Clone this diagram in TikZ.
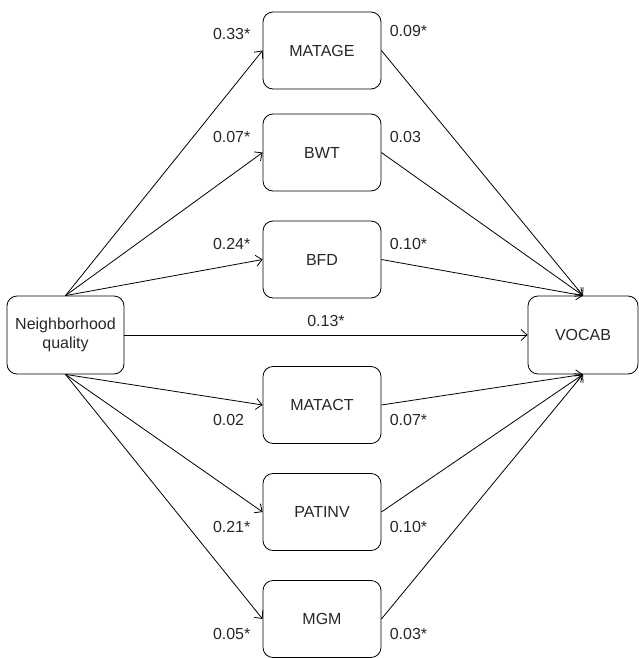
\documentclass[tikz,border=0pt]{standalone}
\usepackage{fontspec}
\setmainfont{Liberation Sans}
\usetikzlibrary{arrows.meta,positioning}

\tikzset{
  box/.style={draw, rounded corners=10pt, minimum width=118pt, minimum height=77pt,
    inner sep=0pt, align=center, text=black!85},
  lbl/.style={anchor=west, inner sep=0pt, text=black!85},
}

\begin{document}
\begin{tikzpicture}[x=1pt, y=-1pt, node distance=107pt, on grid,
    line width=0.8pt, >={Straight Barb[length=6pt,width=11pt]},
    font=\fontsize{16}{19.5}\selectfont]
  \useasboundingbox (0,0) rectangle (639,658);

  % outer nodes
  \node[box, minimum width=117pt, minimum height=78pt] (nq) at (65.5,335) {Neighborhood\\quality};
  \node[box, minimum width=110pt, minimum height=78pt] (vocab) at (583,335) {VOCAB};

  % mediators
  \node[box] (matage) at (322,50.5) {MATAGE};
  \node[box] (bwt) [below=102pt of matage] {BWT};
  \node[box] (bfd) [below=of bwt] {BFD};
  \node[box] (matact) at (322,405) {MATACT};
  \node[box] (patinv) [below=of matact] {PATINV};
  \node[box] (mgm) [below=of patinv] {MGM};

  \path[->]
    (nq.north) edge (matage.west)
    (nq.north) edge (bwt.west)
    (nq.north) edge (bfd.west)
    (nq.south) edge (matact.west)
    (nq.south) edge (patinv.west)
    (nq.south) edge (mgm.west)
    (matage.east) edge (vocab.north)
    (bwt.east) edge (vocab.north)
    (bfd.east) edge (vocab.north)
    (matact.east) edge (vocab.south)
    (patinv.east) edge (vocab.south)
    (mgm.east) edge (vocab.south)
    (nq.east) edge node[above=8pt, inner sep=0pt, text=black!85] {0.13*} (vocab.west);

  % path coefficients
  \node[lbl] (a1) at ([shift={(-50,-17)}]matage.west) {0.33*};
  \node[lbl] (a2) at ([shift={(-50,-16)}]bwt.west) {0.07*};
  \node[lbl] (a3) at ([shift={(-50,-16)}]bfd.west) {0.24*};
  \node[lbl] (a4) at ([shift={(-50,15)}]matact.west) {0.02};
  \node[lbl] (a5) at ([shift={(-50,15)}]patinv.west) {0.21*};
  \node[lbl] (a6) at ([shift={(-50,15)}]mgm.west) {0.05*};
  \node[lbl] (b1) at ([shift={(8,-20)}]matage.east) {0.09*};
  \node[lbl] (b2) at ([shift={(8,-16)}]bwt.east) {0.03};
  \node[lbl] (b3) at ([shift={(8,-16)}]bfd.east) {0.10*};
  \node[lbl] (b4) at ([shift={(8,15)}]matact.east) {0.07*};
  \node[lbl] (b5) at ([shift={(8,15)}]patinv.east) {0.10*};
  \node[lbl] (b6) at ([shift={(8,15)}]mgm.east) {0.03*};
\end{tikzpicture}
\end{document}
